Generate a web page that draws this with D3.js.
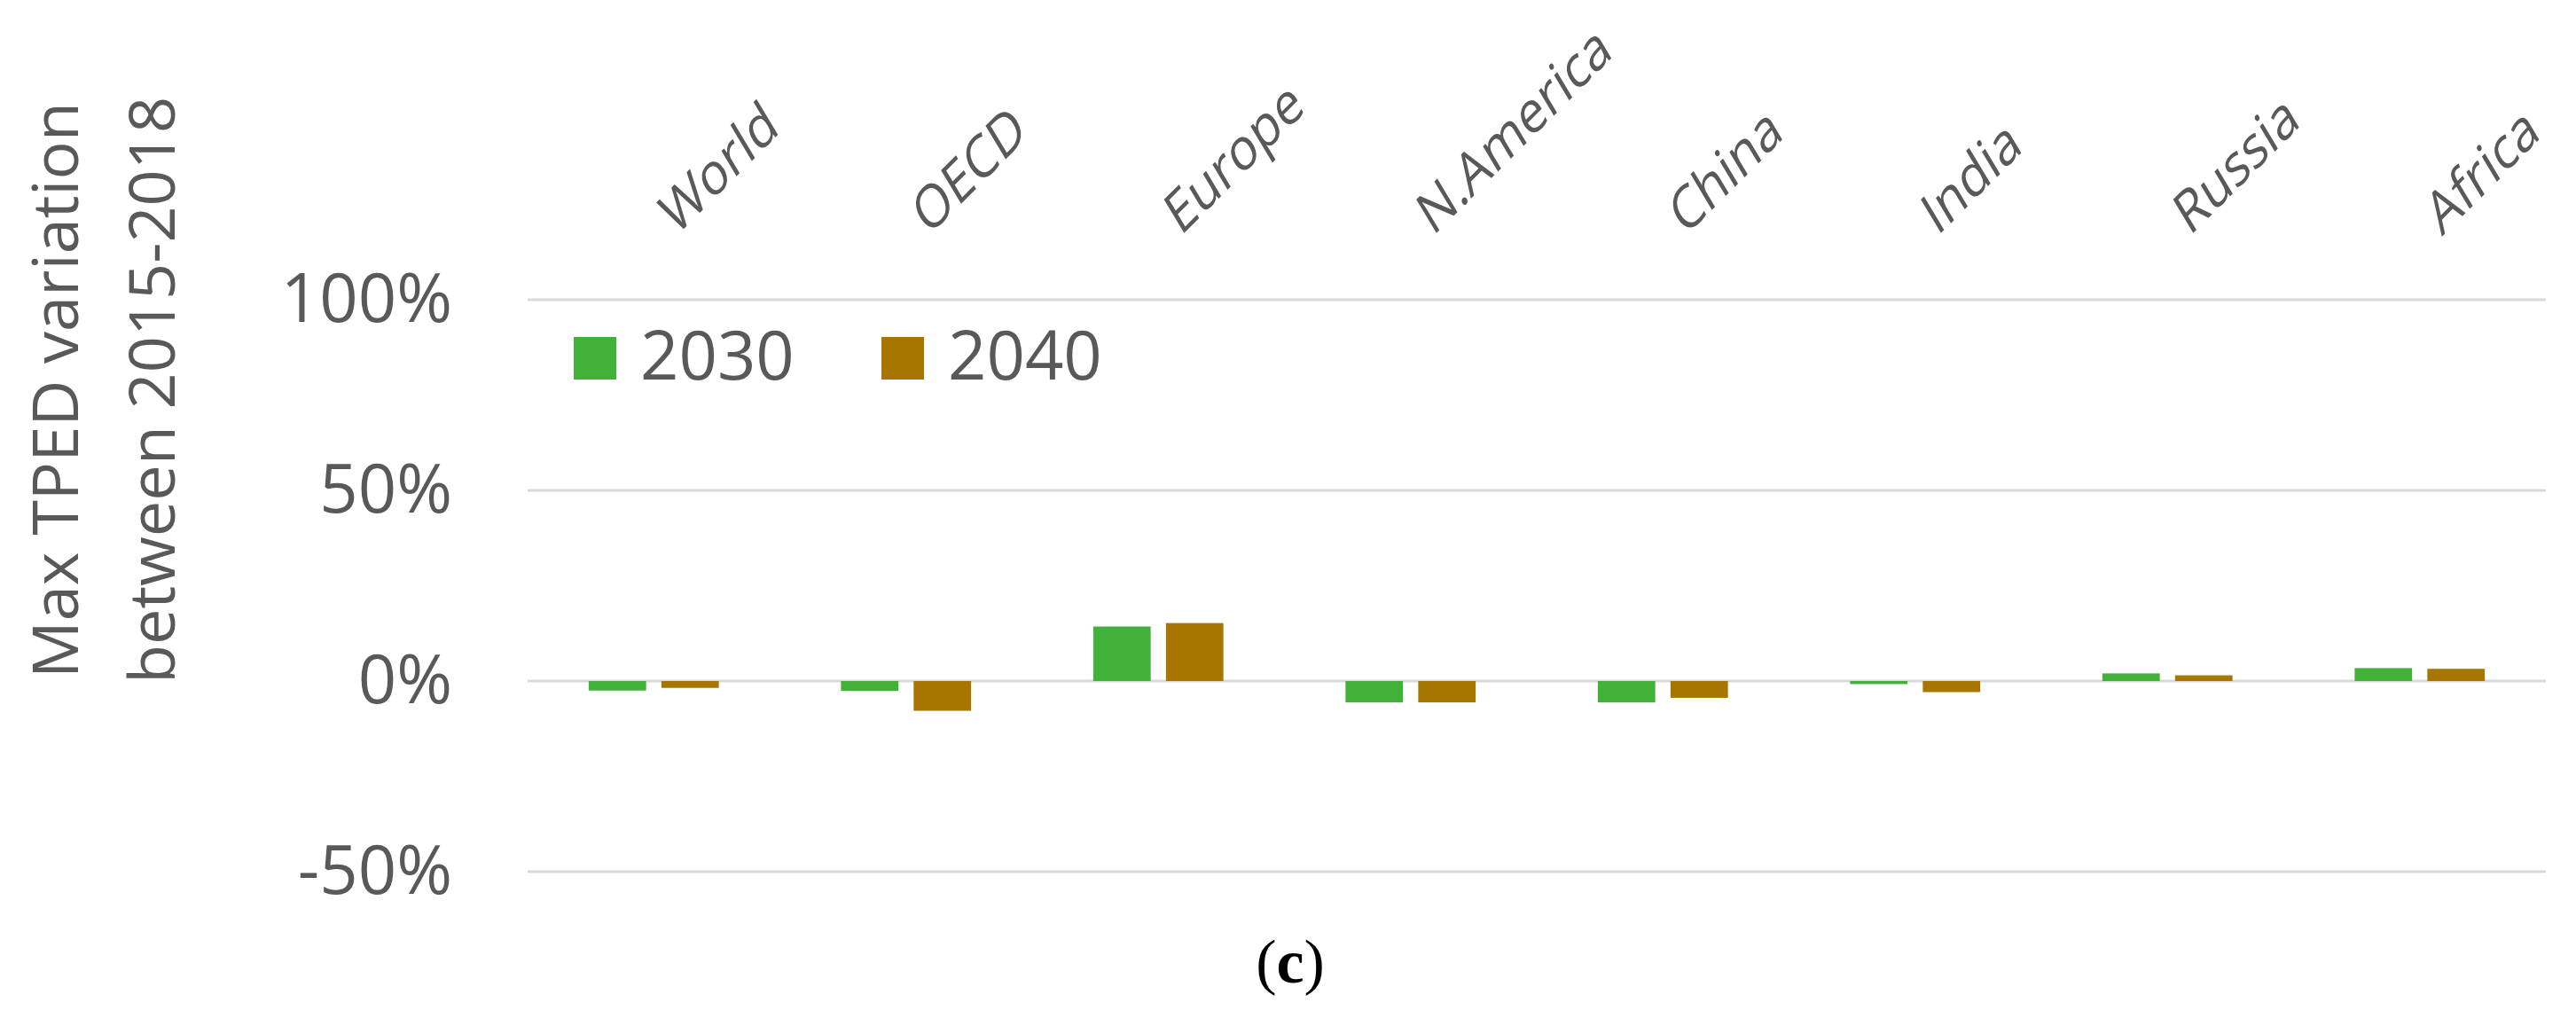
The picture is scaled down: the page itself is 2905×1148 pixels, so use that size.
<!DOCTYPE html>
<html>
<head>
<meta charset="utf-8">
<script src="https://cdn.jsdelivr.net/npm/d3@7"></script>
<style>
  body { margin: 0; background: #fff; }
  text { font-family: "Open Sans", sans-serif; fill: #595959; }
</style>
</head>
<body>
<div id="chart"></div>
<script>
// data
const regions = ["World", "OECD", "Europe", "N.America", "China", "India", "Russia", "Africa"];
const series = ["2030", "2040"];
const v2030 = [-2.5, -2.6, 14.3, -5.6, -5.6, -0.8, 2.0, 3.4];
const v2040 = [-1.8, -7.8, 15.2, -5.6, -4.4, -2.9, 1.5, 3.2];
const yTicks = [-50, 0, 50, 100];
const colors = ["#41b13a", "#a87500"];

const rows = regions.map((r, i) => ({region: r, values: [v2030[i], v2040[i]]}));

// set the dimensions and margins of the graph
const margin = {top: 338, right: 34, bottom: 165, left: 595},
    width = 2905 - margin.left - margin.right,
    height = 1148 - margin.top - margin.bottom;

const root = d3.select("#chart")
  .append("svg")
    .attr("width", width + margin.left + margin.right)
    .attr("height", height + margin.top + margin.bottom);

const svg = root.append("g")
    .attr("transform", `translate(${margin.left}, ${margin.top})`);

// scales
const x0 = d3.scaleBand()
  .domain(regions)
  .range([0, width]);

const x1 = d3.scaleBand()
  .domain(series)
  .range([0, x0.bandwidth()])
  .paddingInner(0.21)
  .paddingOuter(0.84);

const y = d3.scaleLinear()
  .domain([-50, 100])
  .range([height, 0]);

// gridlines
svg.selectAll("line.grid")
  .data(yTicks)
  .join("line")
    .attr("class", "grid")
    .attr("x1", 0)
    .attr("x2", width)
    .attr("y1", d => y(d))
    .attr("y2", d => y(d))
    .attr("stroke", "#d9d9d9")
    .attr("stroke-width", 3);

// Y axis
const yAxis = svg.append("g")
  .call(d3.axisLeft(y).tickValues(yTicks).tickFormat(d => d + "%").tickSize(0).tickPadding(85));
yAxis.select(".domain").remove();
yAxis.selectAll("text")
  .style("font-family", "Open Sans")
  .style("font-size", "76px")
  .attr("fill", "#595959");

// category labels along the top, rotated (slightly sheared like the original)
const xAxis = svg.append("g")
  .attr("transform", "translate(0, -71)")
  .call(d3.axisTop(x0).tickSize(0));
xAxis.select(".domain").remove();
xAxis.selectAll("text")
  .attr("y", 0)
  .attr("dy", 0)
  .attr("transform", "translate(25,0)rotate(-45)skewX(-14)")
  .style("text-anchor", "start")
  .style("font-family", "Open Sans")
  .style("font-size", "60px")
  .attr("fill", "#595959");

// Bars
svg.append("g")
  .selectAll("g")
  .data(rows)
  .join("g")
    .attr("transform", d => `translate(${x0(d.region)}, 0)`)
  .selectAll("rect")
  .data(d => d.values.map((v, i) => ({key: series[i], value: v})))
  .join("rect")
    .attr("x", d => x1(d.key))
    .attr("y", d => y(Math.max(0, d.value)))
    .attr("width", x1.bandwidth())
    .attr("height", d => Math.abs(y(d.value) - y(0)))
    .attr("fill", (d, i) => colors[i]);

// legend
const legend = svg.append("g")
  .attr("transform", "translate(52, 42)");
const li = legend.selectAll("g")
  .data(series)
  .join("g")
    .attr("transform", (d, i) => `translate(${i * 347}, 0)`);
li.append("rect")
  .attr("width", 48)
  .attr("height", 48)
  .attr("fill", (d, i) => colors[i]);
li.append("text")
  .attr("x", 75)
  .attr("y", 48)
  .style("font-size", "76px")
  .text(d => d);

// Y axis title
const title = root.append("text")
  .attr("transform", "translate(0, 440)rotate(-90)")
  .attr("text-anchor", "middle")
  .style("font-size", "72px");
title.append("tspan").attr("x", 0).attr("y", 88).text("Max TPED variation");
title.append("tspan").attr("x", 0).attr("y", 197).text("between 2015-2018");

// caption
const cap = root.append("text")
  .attr("x", 1455)
  .attr("y", 1108)
  .attr("text-anchor", "middle")
  .style("font-family", "Liberation Serif")
  .style("font-size", "70px")
  .attr("fill", "#000");
cap.append("tspan").style("fill", "#000").text("(");
cap.append("tspan").style("fill", "#000").style("font-weight", "bold").text("c");
cap.append("tspan").style("fill", "#000").text(")");
</script>
</body>
</html>
